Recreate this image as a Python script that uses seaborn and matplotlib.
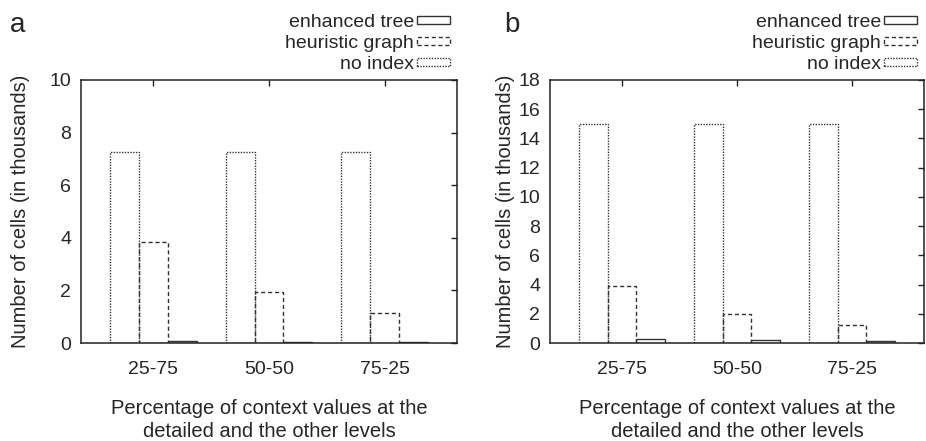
import matplotlib
matplotlib.use("Agg")
import matplotlib.pyplot as plt
from matplotlib.patches import Patch
import pandas as pd
import seaborn as sns

# Data (thousands of cells)
ratios = ["25-75", "50-50", "75-25"]
methods = ["no index", "heuristic graph", "enhanced tree"]
legend_order = ["enhanced tree", "heuristic graph", "no index"]

a_no_index = [7.25, 7.25, 7.25]
a_heuristic = [3.85, 1.95, 1.15]
a_enhanced = [0.07, 0.05, 0.04]

b_no_index = [15.0, 15.0, 15.0]
b_heuristic = [3.9, 2.0, 1.2]
b_enhanced = [0.3, 0.18, 0.15]

a_yticks = [0, 2, 4, 6, 8, 10]
b_yticks = [0, 2, 4, 6, 8, 10, 12, 14, 16, 18]

sns.set_style("white")
plt.rcParams["font.family"] = ["Liberation Sans", "DejaVu Sans"]
plt.rcParams["font.size"] = 14

edge = "#333333"
styles = {
    "no index": dict(linestyle=(0, (1, 1)), linewidth=1.0),
    "heuristic graph": dict(linestyle=(0, (3, 2)), linewidth=1.0),
    "enhanced tree": dict(linestyle="-", linewidth=1.0),
}


def long_frame(no_index, heuristic, enhanced):
    rows = []
    for vals, m in zip([no_index, heuristic, enhanced], methods):
        for r, v in zip(ratios, vals):
            rows.append({"ratio": r, "method": m, "cells": v})
    return pd.DataFrame(rows)


fig = plt.figure(figsize=(9.26, 4.41), dpi=100)
W, H = 926, 441
ax_a = fig.add_axes([81 / W, 1 - 343 / H, 376 / W, 263 / H])
ax_b = fig.add_axes([550 / W, 1 - 343 / H, 374 / W, 263 / H])

panels = [
    (ax_a, long_frame(a_no_index, a_heuristic, a_enhanced), a_yticks, "a", 10, -0.136),
    (ax_b, long_frame(b_no_index, b_heuristic, b_enhanced), b_yticks, "b", 504, -0.093),
]

for ax, df, yticks, letter, lx, ylab_x in panels:
    sns.barplot(
        data=df, x="ratio", y="cells", hue="method", hue_order=methods,
        order=ratios, palette={m: edge for m in methods}, fill=False,
        width=0.75, gap=0, errorbar=None, legend=False, ax=ax,
    )
    for cont, m in zip(ax.containers, methods):
        for bar in cont:
            bar.set_edgecolor(edge)
            bar.set_linestyle(styles[m]["linestyle"])
            bar.set_linewidth(styles[m]["linewidth"])

    ax.set_xlim(-0.625, 2.625)
    ax.set_ylim(yticks[0], yticks[-1])
    ax.set_yticks(yticks)
    ax.tick_params(axis="both", which="both", direction="in", length=4,
                   width=1.0, color="#222222", top=True, right=True,
                   labelsize=14)
    ax.tick_params(axis="x", pad=13)
    ax.tick_params(axis="y", pad=7)
    for s in ax.spines.values():
        s.set_visible(True)
        s.set_color("#222222")
        s.set_linewidth(1.1)

    ax.set_xlabel("Percentage of context values at the\ndetailed and the other levels",
                  fontsize=14.5, linespacing=1.25, labelpad=15)
    ax.set_ylabel("Number of cells (in thousands)", fontsize=14.5)
    ax.yaxis.set_label_coords(ylab_x, 0.5)

    handles = [Patch(facecolor="none", edgecolor=edge, **styles[m]) for m in legend_order]
    ax.legend(handles, legend_order, loc="lower right", bbox_to_anchor=(1.0, 1.0),
              frameon=False, markerfirst=False, handlelength=1.7, handleheight=0.25,
              handletextpad=0.15, labelspacing=0.2, borderaxespad=0.35,
              borderpad=0.0, fontsize=14)

    fig.text(lx / W, 1 - 25 / H, letter, fontsize=20, ha="left", va="center")

fig.savefig("out.png", dpi=100)
